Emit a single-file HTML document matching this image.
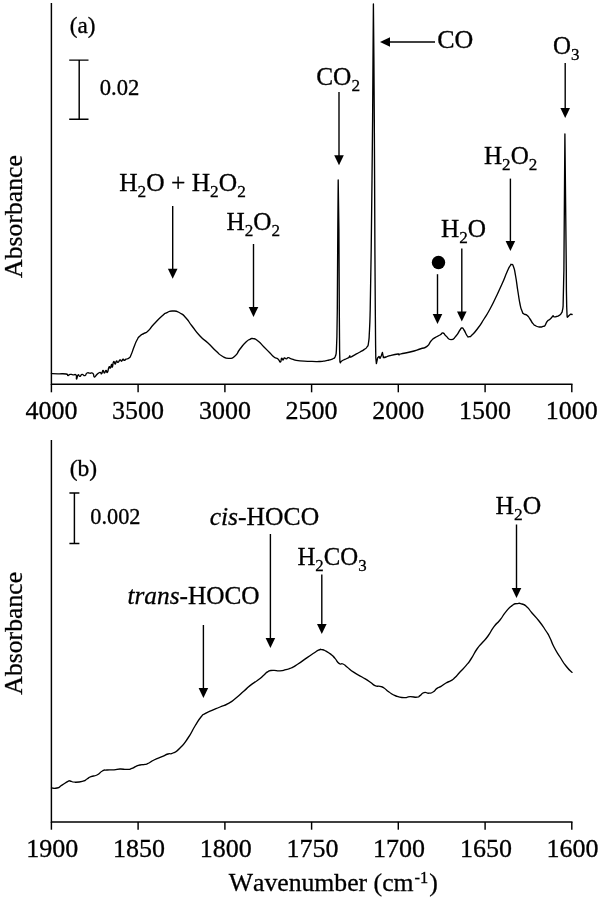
<!DOCTYPE html>
<html><head><meta charset="utf-8"><title>Figure</title>
<style>
html,body{margin:0;padding:0;background:#fff}
svg{display:block}
.t{font-family:"Liberation Serif","Times New Roman",serif;font-size:25px;fill:#000;stroke:#000;stroke-width:0.3px;font-kerning:none;font-variant-ligatures:none}
.tk{text-anchor:middle}
.s{font-size:22.5px}
.tl{font-size:26px}
.sb{font-size:17px}
.sp{font-size:16px}
.it{font-style:italic}
.ax{stroke:#000;stroke-width:1.45;fill:none}
.ar{stroke:#000;stroke-width:1.4;fill:none}
.sc{stroke:#000;stroke-width:1.45;fill:none}
.cv{stroke:#000;stroke-width:1.35;fill:none;stroke-linejoin:round;stroke-linecap:round}
</style></head><body>
<svg width="600" height="897" viewBox="0 0 600 897">
<rect width="600" height="897" fill="#fff"/>
<path d="M51.4 3V384.15H572.5" class="ax"/>
<line x1="51.4" y1="384.15" x2="51.4" y2="392.3" class="ax"/>
<text x="51.4" y="419.2" class="t tk tl">4000</text>
<line x1="138.1" y1="384.15" x2="138.1" y2="392.3" class="ax"/>
<text x="138.1" y="419.2" class="t tk tl">3500</text>
<line x1="224.9" y1="384.15" x2="224.9" y2="392.3" class="ax"/>
<text x="224.9" y="419.2" class="t tk tl">3000</text>
<line x1="311.6" y1="384.15" x2="311.6" y2="392.3" class="ax"/>
<text x="311.6" y="419.2" class="t tk tl">2500</text>
<line x1="398.3" y1="384.15" x2="398.3" y2="392.3" class="ax"/>
<text x="398.3" y="419.2" class="t tk tl">2000</text>
<line x1="485.1" y1="384.15" x2="485.1" y2="392.3" class="ax"/>
<text x="485.1" y="419.2" class="t tk tl">1500</text>
<line x1="571.8" y1="384.15" x2="571.8" y2="392.3" class="ax"/>
<text x="571.8" y="419.2" class="t tk tl">1000</text>
<path d="M51.4 440V821.9H572.5" class="ax"/>
<line x1="51.4" y1="821.9" x2="51.4" y2="829.7" class="ax"/>
<text x="52.2" y="857" class="t tk tl">1900</text>
<line x1="138.1" y1="821.9" x2="138.1" y2="829.7" class="ax"/>
<text x="138.9" y="857" class="t tk tl">1850</text>
<line x1="224.9" y1="821.9" x2="224.9" y2="829.7" class="ax"/>
<text x="225.7" y="857" class="t tk tl">1800</text>
<line x1="311.6" y1="821.9" x2="311.6" y2="829.7" class="ax"/>
<text x="312.4" y="857" class="t tk tl">1750</text>
<line x1="398.3" y1="821.9" x2="398.3" y2="829.7" class="ax"/>
<text x="399.1" y="857" class="t tk tl">1700</text>
<line x1="485.1" y1="821.9" x2="485.1" y2="829.7" class="ax"/>
<text x="485.9" y="857" class="t tk tl">1650</text>
<line x1="571.8" y1="821.9" x2="571.8" y2="829.7" class="ax"/>
<text x="572.6" y="857" class="t tk tl">1600</text>
<path d="M51.5 373.6C53.7 373.7 53.2 373.7 58.0 373.8C62.8 373.9 62.7 373.4 66.0 374.0C69.3 374.6 66.7 375.5 68.0 375.6C69.3 375.7 68.3 374.7 70.0 374.4C71.7 374.1 71.0 374.6 73.0 374.8C75.0 375.0 74.8 373.6 76.0 375.0C77.2 376.4 75.9 379.0 76.6 379.0C77.3 379.0 76.9 375.9 78.0 375.0C79.1 374.1 78.7 376.6 80.0 376.4C81.3 376.2 80.3 374.7 82.0 374.4C83.7 374.1 83.3 376.1 85.0 375.6C86.7 375.1 85.3 373.8 87.0 373.0C88.7 372.2 88.0 373.1 90.0 373.2C92.0 373.3 91.5 372.1 93.0 373.4C94.5 374.7 93.1 376.7 94.4 377.0C95.7 377.3 95.1 375.9 97.0 374.4C98.9 372.9 98.5 372.7 100.0 372.4C101.5 372.1 100.6 374.3 101.6 373.6C102.6 372.9 102.1 370.6 103.0 370.4C103.9 370.2 103.4 373.0 104.4 373.0C105.4 373.0 105.0 370.6 106.0 370.4C107.0 370.2 106.4 373.5 107.4 372.4C108.4 371.3 108.0 368.5 109.0 367.0C110.0 365.5 109.5 368.9 110.4 368.0C111.3 367.1 110.9 364.7 111.6 364.4C112.3 364.1 111.7 367.9 112.4 367.0C113.1 366.1 112.7 362.6 113.6 361.6C114.5 360.6 114.3 364.2 115.2 364.0C116.1 363.8 115.5 361.5 116.4 361.0C117.3 360.5 116.8 362.7 118.0 362.4C119.2 362.1 118.8 360.4 120.0 360.0C121.2 359.6 120.6 361.5 121.6 361.2C122.6 360.9 122.1 359.5 123.0 359.2C123.9 358.9 123.4 360.4 124.4 360.4C125.4 360.4 124.5 360.0 126.0 359.2C127.5 358.4 127.3 359.4 129.0 358.0C130.7 356.6 129.3 358.7 131.0 355.0C132.7 351.3 132.0 352.0 134.0 347.0C136.0 342.0 135.0 343.7 137.0 340.0C139.0 336.3 137.7 338.2 140.0 336.0C142.3 333.8 141.3 335.1 144.0 333.4C146.7 331.7 144.7 334.1 148.0 331.0C151.3 327.9 149.3 329.0 154.0 324.0C158.7 319.0 157.7 319.8 162.0 316.0C166.3 312.2 163.3 314.3 167.0 312.6C170.7 310.9 168.7 310.9 173.0 311.0C177.3 311.1 175.7 310.7 180.0 313.0C184.3 315.3 182.0 313.7 186.0 318.0C190.0 322.3 187.3 320.0 192.0 326.0C196.7 332.0 194.7 330.3 200.0 336.0C205.3 341.7 202.7 338.0 208.0 343.0C213.3 348.0 211.3 346.7 216.0 351.0C220.7 355.3 217.7 353.5 222.0 356.0C226.3 358.5 224.7 358.4 229.0 358.4C233.3 358.4 231.3 359.1 235.0 356.0C238.7 352.9 236.3 353.7 240.0 349.0C243.7 344.3 242.7 345.2 246.0 342.0C249.3 338.8 247.7 340.5 250.0 339.4C252.3 338.3 250.3 338.1 253.0 338.6C255.7 339.1 254.3 338.2 258.0 341.0C261.7 343.8 260.0 343.0 264.0 347.0C268.0 351.0 266.7 349.7 270.0 353.0C273.3 356.3 271.3 355.0 274.0 357.0C276.7 359.0 275.9 357.3 278.0 359.0C280.1 360.7 279.2 362.2 280.4 362.0C281.6 361.8 280.7 359.1 281.6 358.4C282.5 357.7 282.1 360.1 283.0 360.0C283.9 359.9 283.3 358.4 284.4 358.0C285.5 357.6 285.1 358.9 286.4 358.8C287.7 358.7 286.5 357.5 288.4 357.6C290.3 357.7 288.1 358.1 292.0 359.2C295.9 360.3 293.3 360.1 300.0 360.8C306.7 361.5 305.3 361.2 312.0 361.4C318.7 361.6 315.5 361.7 320.0 361.5C324.5 361.3 322.1 361.4 325.4 360.8C328.7 360.2 327.3 360.6 330.0 359.8C332.7 359.0 331.7 359.5 333.4 358.5C335.1 357.5 334.2 358.3 335.1 356.8C335.9 355.3 335.7 355.0 336.1 354.1L336.4 350.1L336.9 336.8L337.3 310.0L337.8 230.0L338.2 180.0L338.9 230.0L339.3 310.0L339.6 350.0L339.9 361.5L340.3 362.8 L340.3 362.8C340.9 362.1 339.9 362.2 342.1 360.8C344.3 359.4 344.6 359.6 346.8 358.5C349.0 357.4 347.8 358.3 348.8 357.4C349.8 356.5 349.3 355.9 349.8 355.8C350.3 355.7 348.7 357.5 350.4 357.2C352.1 356.9 351.6 356.5 354.8 354.8C358.0 353.1 356.9 353.7 360.0 352.0C363.1 350.3 361.7 351.3 364.0 349.6C366.3 347.9 365.5 349.5 367.0 347.0C368.5 344.5 367.8 347.7 368.6 342.0C369.4 336.3 368.9 340.7 369.5 330.0C370.1 319.3 370.0 316.7 370.2 310.0L371.2 250.0L372.0 180.0L372.6 120.0L373.0 60.0L373.4 4.0L373.9 60.0L374.3 120.0L374.6 180.0L374.9 250.0L375.3 310.0L375.6 345.0L375.8 358.0L376.4 363.6L377.6 358.0L379.0 356.4L380.0 358.4L381.2 356.0L382.4 352.4L383.4 357.6 L383.4 357.6C384.3 357.4 383.8 357.7 386.0 357.0C388.2 356.3 386.0 356.6 390.0 355.6C394.0 354.6 395.0 354.3 398.0 354.0C401.0 353.7 398.0 354.9 399.0 354.8C400.0 354.7 397.3 354.7 401.0 353.8C404.7 352.9 403.7 353.6 410.0 352.0C416.3 350.4 414.3 350.9 420.0 349.0C425.7 347.1 423.3 349.1 427.0 346.4C430.7 343.7 428.3 343.9 431.0 341.0C433.7 338.1 432.0 339.6 435.0 337.6C438.0 335.6 437.3 336.5 440.0 335.0C442.7 333.5 441.0 332.7 443.0 333.0C445.0 333.3 443.3 333.8 446.0 336.0C448.7 338.2 447.7 339.6 451.0 339.6C454.3 339.6 453.0 339.2 456.0 336.0C459.0 332.8 458.0 332.7 460.0 330.0C462.0 327.3 460.7 328.0 462.0 328.0C463.3 328.0 462.3 327.5 464.0 330.0C465.7 332.5 465.3 333.4 467.0 335.6C468.7 337.8 467.3 336.8 469.0 336.6C470.7 336.4 469.0 337.9 472.0 335.0C475.0 332.1 474.0 333.3 478.0 328.0C482.0 322.7 480.0 325.3 484.0 319.0C488.0 312.7 486.0 316.3 490.0 309.0C494.0 301.7 492.0 305.3 496.0 297.0C500.0 288.7 498.3 292.3 502.0 284.0C505.7 275.7 504.3 278.0 507.0 272.0C509.7 266.0 508.5 268.5 510.0 266.0C511.5 263.5 510.4 264.3 511.6 264.6C512.8 264.9 512.3 263.2 513.6 267.0C514.9 270.8 514.1 267.7 515.6 276.0C517.1 284.3 516.5 282.7 518.0 292.0C519.5 301.3 518.7 297.7 520.0 304.0C521.3 310.3 520.7 307.7 522.0 311.0C523.3 314.3 522.3 312.6 524.0 314.0C525.7 315.4 525.0 313.5 527.0 315.2C529.0 316.9 528.0 316.2 530.0 319.0C532.0 321.8 531.0 321.3 533.0 323.6C535.0 325.9 533.7 324.9 536.0 326.0C538.3 327.1 537.7 326.9 540.0 327.0C542.3 327.1 541.3 326.9 543.0 326.4C544.7 325.9 543.9 326.7 545.0 325.5C546.1 324.3 545.4 324.4 546.3 322.8C547.2 321.2 546.6 321.9 547.7 320.8C548.8 319.7 548.4 320.6 549.7 319.5C551.0 318.4 550.6 318.7 551.7 317.5C552.8 316.3 552.2 316.0 553.0 315.8C553.8 315.6 552.9 316.6 554.0 316.8C555.1 317.0 554.7 316.9 556.4 316.5C558.1 316.1 557.3 316.6 559.0 315.5C560.7 314.4 560.2 314.9 561.4 313.1C562.6 311.3 561.9 312.4 562.5 310.1C563.1 307.8 562.9 307.4 563.1 306.1L563.3 296.8L563.6 283.4L563.9 270.0L564.9 134.0L566.3 270.0L566.4 290.0L566.7 306.8L567.1 316.2L567.4 317.2L569.1 315.5L570.8 314.1L572.1 314.5" class="cv"/>
<path d="M51.5 788.0C53.3 788.0 53.5 788.9 57.0 788.0C60.5 787.1 58.3 787.4 62.0 785.2C65.7 783.0 65.3 782.8 68.0 781.4C70.7 780.0 67.7 780.7 70.0 781.0C72.3 781.3 70.7 782.1 75.0 782.2C79.3 782.3 79.0 782.3 83.0 781.2C87.0 780.1 84.3 780.5 87.0 779.0C89.7 777.5 87.7 777.9 91.0 776.6C94.3 775.3 93.2 776.9 97.0 775.0C100.8 773.1 99.1 772.7 102.4 771.0C105.7 769.3 103.1 770.4 107.0 770.0C110.9 769.6 109.7 770.1 114.0 769.8C118.3 769.5 115.7 769.1 120.0 769.0C124.3 768.9 123.0 769.6 127.0 769.4C131.0 769.2 129.0 769.4 132.0 768.4C135.0 767.4 133.3 767.5 136.0 766.4C138.7 765.3 137.0 765.7 140.0 765.0C143.0 764.3 142.0 765.1 145.0 764.4C148.0 763.7 146.0 764.5 149.0 763.0C152.0 761.5 149.7 762.1 154.0 760.0C158.3 757.9 157.3 758.6 162.0 756.6C166.7 754.6 164.3 755.2 168.0 754.0C171.7 752.8 169.0 755.0 173.0 753.0C177.0 751.0 175.0 753.0 180.0 748.0C185.0 743.0 183.0 745.3 188.0 738.0C193.0 730.7 190.7 733.0 195.0 726.0C199.3 719.0 197.7 721.1 201.0 717.0C204.3 712.9 201.3 715.8 205.0 713.6C208.7 711.4 207.0 712.6 212.0 710.4C217.0 708.2 214.7 709.3 220.0 707.0C225.3 704.7 222.7 706.6 228.0 703.6C233.3 700.6 230.7 702.2 236.0 698.0C241.3 693.8 239.3 695.1 244.0 691.0C248.7 686.9 245.3 689.3 250.0 685.6C254.7 681.9 253.3 683.5 258.0 680.0C262.7 676.5 260.7 677.8 264.0 675.0C267.3 672.2 265.0 673.1 268.0 671.6C271.0 670.1 269.0 670.7 273.0 670.4C277.0 670.1 275.7 671.1 280.0 670.8C284.3 670.5 282.3 670.5 286.0 669.6C289.7 668.7 287.0 669.9 291.0 668.0C295.0 666.1 293.0 667.2 298.0 664.0C303.0 660.8 300.7 662.1 306.0 658.4C311.3 654.7 309.7 655.8 314.0 653.0C318.3 650.2 316.3 651.1 319.0 650.0C321.7 648.9 319.7 649.2 322.0 649.6C324.3 650.0 323.0 649.6 326.0 651.2C329.0 652.8 328.0 652.0 331.0 654.4C334.0 656.8 332.3 655.4 335.0 658.4C337.7 661.4 336.3 661.5 339.0 663.4C341.7 665.3 340.3 662.8 343.0 664.0C345.7 665.2 343.3 664.2 347.0 667.0C350.7 669.8 349.0 669.1 354.0 672.4C359.0 675.7 356.7 673.8 362.0 677.0C367.3 680.2 365.7 679.1 370.0 682.0C374.3 684.9 371.7 684.1 375.0 685.6C378.3 687.1 377.0 685.6 380.0 686.4C383.0 687.2 381.0 686.1 384.0 688.0C387.0 689.9 385.0 689.3 389.0 692.0C393.0 694.7 391.0 694.1 396.0 696.0C401.0 697.9 399.3 697.4 404.0 697.6C408.7 697.8 405.7 696.7 410.0 696.6C414.3 696.5 413.7 697.5 417.0 697.2C420.3 696.9 417.7 697.1 420.0 695.6C422.3 694.1 421.0 693.4 424.0 692.6C427.0 691.8 426.0 693.4 429.0 693.2C432.0 693.0 430.3 693.6 433.0 692.0C435.7 690.4 434.3 690.3 437.0 688.4C439.7 686.5 438.0 688.2 441.0 686.4C444.0 684.6 442.7 684.9 446.0 683.0C449.3 681.1 448.0 682.4 451.0 680.6C454.0 678.8 452.0 680.5 455.0 677.6C458.0 674.7 456.3 676.0 460.0 672.0C463.7 668.0 462.3 669.9 466.0 665.6C469.7 661.3 467.3 664.5 471.0 659.0C474.7 653.5 473.3 654.3 477.0 649.0C480.7 643.7 478.3 647.3 482.0 643.0C485.7 638.7 484.0 641.5 488.0 636.0C492.0 630.5 490.0 631.9 494.0 626.6C498.0 621.3 496.0 625.0 500.0 620.0C504.0 615.0 502.0 616.4 506.0 611.6C510.0 606.8 508.3 608.3 512.0 605.6C515.7 602.9 513.7 604.1 517.0 603.6C520.3 603.1 518.7 602.9 522.0 604.0C525.3 605.1 523.7 604.0 527.0 607.0C530.3 610.0 528.0 608.3 532.0 613.0C536.0 617.7 534.3 615.0 539.0 621.0C543.7 627.0 542.3 625.3 546.0 631.0C549.7 636.7 547.3 632.7 550.0 638.0C552.7 643.3 550.7 640.7 554.0 647.0C557.3 653.3 556.0 650.7 560.0 657.0C564.0 663.3 562.0 660.9 566.0 666.0C570.0 671.1 570.0 670.3 572.0 672.4" class="cv"/>
<text transform="translate(22.3 216.5) rotate(-90)" class="t tk" textLength="122.8" lengthAdjust="spacingAndGlyphs">Absorbance</text>
<text transform="translate(22.3 633.3) rotate(-90)" class="t tk" textLength="122.8" lengthAdjust="spacingAndGlyphs">Absorbance</text>
<path d="M69.2 60.1H88.5M79.2 60.1V119.3M69.2 119.3H88.5" class="sc"/>
<path d="M69.4 493H79.4M74.4 493V543.4M69.4 543.4H79.4" class="sc"/>
<text id="pa" x="69.70" y="33.00" class="t s" textLength="25.74" lengthAdjust="spacingAndGlyphs">(a)</text>
<text id="pb" x="69.68" y="475.60" class="t s" textLength="27.42" lengthAdjust="spacingAndGlyphs">(b)</text>
<text id="s02" x="99.79" y="95.00" class="t s" textLength="39.66" lengthAdjust="spacingAndGlyphs">0.02</text>
<text id="s002" x="90.32" y="524.10" class="t s" textLength="50.18" lengthAdjust="spacingAndGlyphs">0.002</text>
<text id="wn" x="228.73" y="891.00" class="t" textLength="209.14" lengthAdjust="spacingAndGlyphs">Wavenumber (cm<tspan class="sp" dy="-8" dx="1">-1</tspan><tspan dy="8" dx="1">)</tspan></text>
<text id="a1" x="119.18" y="191.30" class="t" textLength="126.66" lengthAdjust="spacingAndGlyphs">H<tspan class="sb" dy="6">2</tspan><tspan dy="-6">O + H</tspan><tspan class="sb" dy="6">2</tspan><tspan dy="-6">O</tspan><tspan class="sb" dy="6">2</tspan></text>
<text id="a2" x="226.52" y="230.00" class="t" textLength="53.60" lengthAdjust="spacingAndGlyphs">H<tspan class="sb" dy="6">2</tspan><tspan dy="-6">O</tspan><tspan class="sb" dy="6">2</tspan></text>
<text id="a3" x="316.21" y="85.00" class="t" textLength="43.82" lengthAdjust="spacingAndGlyphs">CO<tspan class="sb" dy="6">2</tspan></text>
<text id="a4" x="437.20" y="48.30" class="t" textLength="36.10" lengthAdjust="spacingAndGlyphs">CO</text>
<text id="a5" x="553.07" y="54.30" class="t" textLength="26.46" lengthAdjust="spacingAndGlyphs">O<tspan class="sb" dy="6">3</tspan></text>
<text id="a6" x="484.01" y="163.50" class="t" textLength="53.30" lengthAdjust="spacingAndGlyphs">H<tspan class="sb" dy="6">2</tspan><tspan dy="-6">O</tspan><tspan class="sb" dy="6">2</tspan></text>
<text id="a7" x="441.00" y="236.60" class="t" textLength="45.13" lengthAdjust="spacingAndGlyphs">H<tspan class="sb" dy="6">2</tspan><tspan dy="-6">O</tspan></text>
<text id="b1" x="209.67" y="525.40" class="t" textLength="109.48" lengthAdjust="spacingAndGlyphs"><tspan class="it">cis</tspan>-HOCO</text>
<text id="b2" x="297.43" y="564.60" class="t" textLength="69.28" lengthAdjust="spacingAndGlyphs">H<tspan class="sb" dy="6">2</tspan><tspan dy="-6">CO</tspan><tspan class="sb" dy="6">3</tspan></text>
<text id="b3" x="127.45" y="603.80" class="t" textLength="132.20" lengthAdjust="spacingAndGlyphs"><tspan class="it">trans</tspan>-HOCO</text>
<text id="b4" x="495.49" y="513.80" class="t" textLength="45.68" lengthAdjust="spacingAndGlyphs">H<tspan class="sb" dy="6">2</tspan><tspan dy="-6">O</tspan></text>
<line x1="172.7" y1="206.0" x2="172.7" y2="269.8" class="ar"/><path d="M167.9 268.8L177.5 268.8L172.7 278.8Z" fill="#000"/>
<line x1="253.5" y1="244.0" x2="253.5" y2="307.9" class="ar"/><path d="M248.7 306.9L258.3 306.9L253.5 316.9Z" fill="#000"/>
<line x1="339.0" y1="92.0" x2="339.0" y2="156.3" class="ar"/><path d="M334.2 155.3L343.8 155.3L339.0 165.3Z" fill="#000"/>
<line x1="435.0" y1="42.0" x2="389.0" y2="42.0" class="ar"/><path d="M390.0 37.2L390.0 46.8L380.0 42.0Z" fill="#000"/>
<line x1="565.2" y1="63.0" x2="565.2" y2="109.0" class="ar"/><path d="M560.4 108.0L570.0 108.0L565.2 118.0Z" fill="#000"/>
<line x1="510.4" y1="178.6" x2="510.4" y2="242.1" class="ar"/><path d="M505.6 241.1L515.2 241.1L510.4 251.1Z" fill="#000"/>
<line x1="461.8" y1="248.6" x2="461.8" y2="312.5" class="ar"/><path d="M457.0 311.5L466.6 311.5L461.8 321.5Z" fill="#000"/>
<circle cx="438.5" cy="262.5" r="6.7" fill="#000"/>
<line x1="437.5" y1="274.2" x2="437.5" y2="315.0" class="ar"/><path d="M432.7 314.0L442.3 314.0L437.5 324.0Z" fill="#000"/>
<line x1="270.4" y1="534.0" x2="270.4" y2="639.1" class="ar"/><path d="M265.6 638.1L275.2 638.1L270.4 648.1Z" fill="#000"/>
<line x1="321.8" y1="574.6" x2="321.8" y2="625.1" class="ar"/><path d="M317.0 624.1L326.6 624.1L321.8 634.1Z" fill="#000"/>
<line x1="203.4" y1="625.0" x2="203.4" y2="689.1" class="ar"/><path d="M198.6 688.1L208.2 688.1L203.4 698.1Z" fill="#000"/>
<line x1="516.5" y1="524.5" x2="516.5" y2="589.0" class="ar"/><path d="M511.7 588.0L521.3 588.0L516.5 598.0Z" fill="#000"/>
</svg>
</body></html>
